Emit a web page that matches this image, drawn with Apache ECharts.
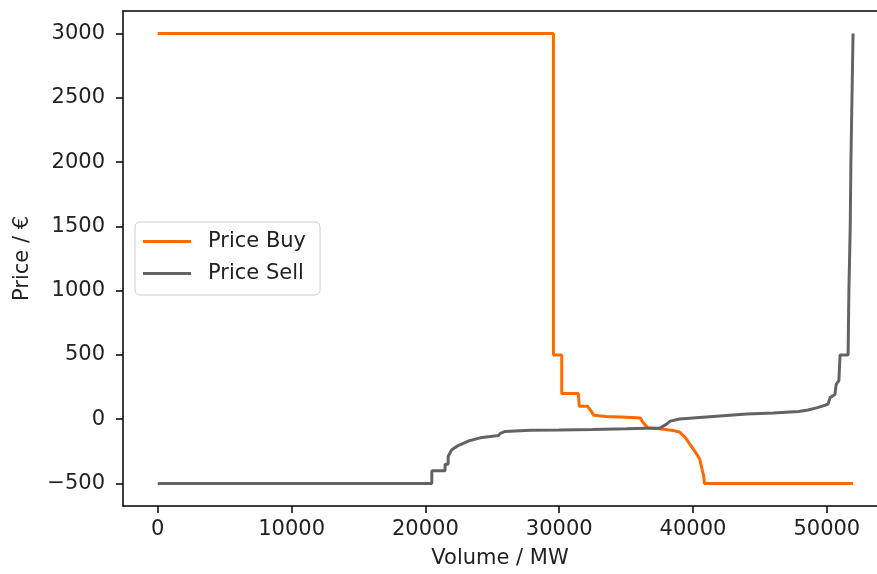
<!DOCTYPE html>
<html>
<head>
<meta charset="utf-8">
<script src="https://cdn.jsdelivr.net/npm/echarts@6/dist/echarts.min.js"></script>
<style>
  html, body { margin: 0; background: #fff; }
  #chart { width: 877px; height: 574px; }
</style>
</head>
<body>
<div id="chart"></div>
<script>
// buy curve (volume MW, price €)
const buyVolume = [0, 29570, 29570, 30190, 30190, 31430, 31500, 32130, 32600, 33500, 34500, 35500, 36050, 36300, 36600, 37500, 38500, 39000, 39400, 39800, 40200, 40500, 40700, 40800, 40850, 51960]
const buyPrice = [3000, 3000, 500, 500, 200, 200, 100, 100, 30, 22, 18, 14, 10, -30, -67, -75, -88, -100, -140, -200, -260, -310, -400, -440, -500, -500]

// sell curve
const sellVolume = [0, 20480, 20480, 21470, 21470, 21700, 21700, 21950, 22450, 23210, 24090, 25460, 25600, 25960, 27830, 30000, 32500, 35000, 36500, 37500, 38000, 38300, 39000, 40000, 42000, 44000, 46000, 47900, 48600, 49300, 49900, 50100, 50250, 50600, 50700, 50900, 50990, 51590, 51650, 51750, 51800, 51880, 51960]
const sellPrice = [-500, -500, -400, -400, -350, -350, -290, -240, -205, -170, -145, -127, -110, -95, -85, -83, -80, -75, -70, -70, -40, -15, 2, 10, 25, 40, 48, 60, 72, 90, 110, 120, 170, 190, 270, 300, 500, 500, 1000, 1500, 2000, 2500, 3000]

const xTicks = [0, 10000, 20000, 30000, 40000, 50000]
const yTicks = [-500, 0, 500, 1000, 1500, 2000, 2500, 3000]

const FONT = 'DejaVu Sans'
const zip = (xs, ys) => xs.map((x, i) => [x, ys[i]])
const fmt = v => String(v).replace('-', '\u2212')

const chart = echarts.init(document.getElementById('chart'), null, { renderer: 'canvas' })

const lineStyle = { color: '#000', width: 1.5 }
const tickStyle = { show: true, inside: false, length: 7, lineStyle }
const labelStyle = { color: '#222', fontFamily: FONT, fontSize: 21, formatter: fmt }

chart.setOption({
  animation: false,
  grid: { left: 123, top: 11, right: 0, bottom: 67 },
  legend: {
    orient: 'vertical',
    left: 135, top: 222,
    padding: [7, 14, 9, 8],
    itemGap: 7,
    itemWidth: 48,
    itemHeight: 3,
    icon: 'rect',
    borderColor: '#cccccc',
    borderWidth: 1,
    borderRadius: 5,
    backgroundColor: 'rgba(255,255,255,0.8)',
    textStyle: { color: '#222', fontFamily: FONT, fontSize: 21, lineHeight: 25, padding: [0, 0, 0, 12] },
    data: ['Price Buy', 'Price Sell'],
  },
  xAxis: [
    {
      type: 'value',
      min: -2600, max: 53750,
      name: 'Volume / MW',
      nameLocation: 'middle',
      nameGap: 42,
      nameTextStyle: { color: '#222', fontFamily: FONT, fontSize: 21 },
      axisLine: { show: true, onZero: false, lineStyle },
      axisTick: { ...tickStyle, customValues: xTicks },
      axisLabel: { ...labelStyle, margin: 13, customValues: xTicks },
      splitLine: { show: false },
    },
    {
      // top frame line only
      type: 'value',
      position: 'top',
      min: -2600, max: 53750,
      axisLine: { show: true, onZero: false, lineStyle },
      axisTick: { show: false },
      axisLabel: { show: false },
      splitLine: { show: false },
    },
  ],
  yAxis: {
    type: 'value',
    min: -675, max: 3175,
    name: 'Price / €',
    nameLocation: 'middle',
    nameGap: 90,
    nameTextStyle: { color: '#222', fontFamily: FONT, fontSize: 21 },
    axisLine: { show: true, onZero: false, lineStyle },
    axisTick: { ...tickStyle, customValues: yTicks },
    axisLabel: { ...labelStyle, margin: 18, customValues: yTicks },
    splitLine: { show: false },
  },
  series: [
    {
      name: 'Price Buy',
      type: 'line',
      symbol: 'none',
      color: '#ff6a00',
      lineStyle: { width: 3 },
      data: zip(buyVolume, buyPrice),
    },
    {
      name: 'Price Sell',
      type: 'line',
      symbol: 'none',
      color: '#636363',
      lineStyle: { width: 3 },
      data: zip(sellVolume, sellPrice),
    },
  ],
})
</script>
</body>
</html>
